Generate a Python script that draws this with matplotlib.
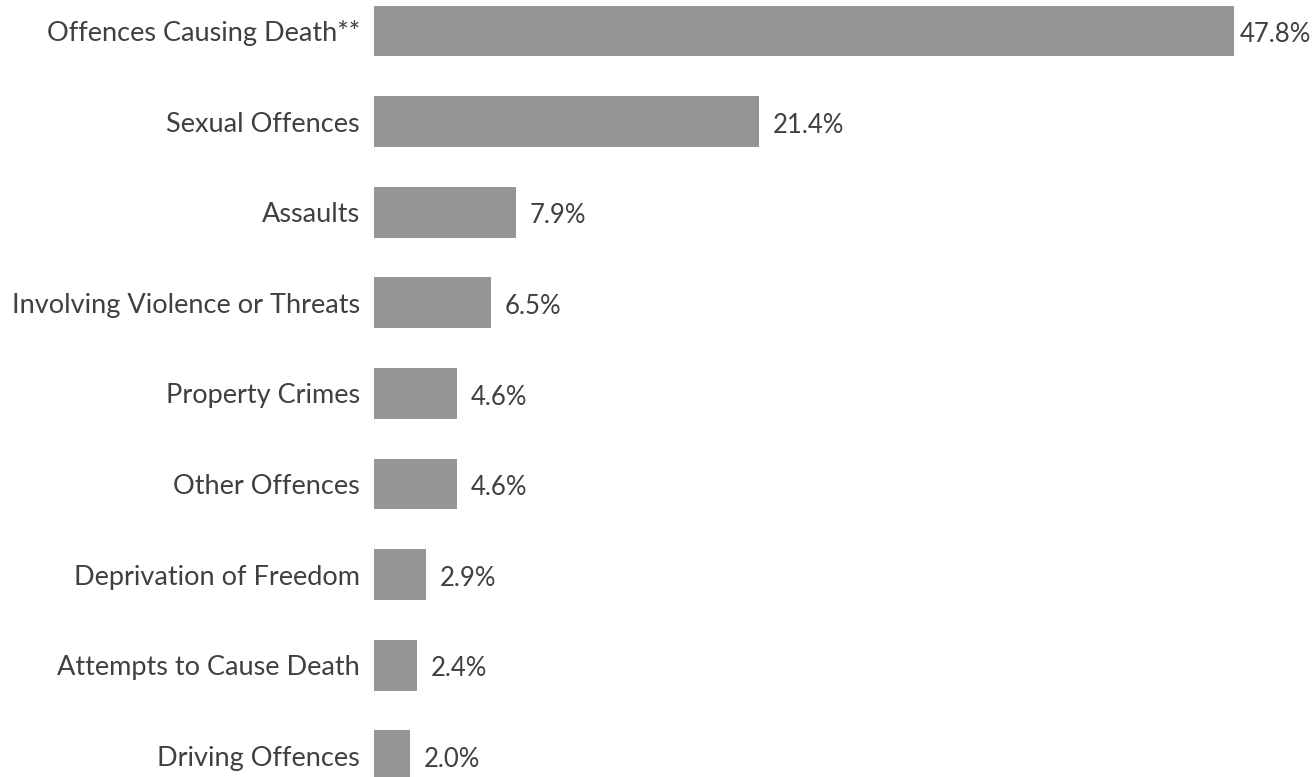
import matplotlib.pyplot as plt

# data
categorias = ['Offences Causing Death**', 'Sexual Offences', 'Assaults',
              'Involving Violence or Threats', 'Property Crimes', 'Other Offences',
              'Deprivation of Freedom', 'Attempts to Cause Death', 'Driving Offences']
porcentajes = [47.8, 21.4, 7.9, 6.5, 4.6, 4.6, 2.9, 2.4, 2.0]

plt.rcParams['font.family'] = ['Lato', 'DejaVu Sans']

fig = plt.figure(figsize=(13.13, 7.77), dpi=100)
ax = fig.add_axes([374 / 1313, 0, 1 - 374 / 1313, 1])

pos = list(range(len(categorias)))
ax.barh(pos, porcentajes, height=0.56, color='#959595')

# etiquetas de valor (la mas larga se pega al borde derecho)
for p, v in zip(pos, porcentajes):
    x = min(v + 0.75, 48.1)
    ax.text(x, p + 0.04, f'{v:.1f}%', va='center', ha='left', fontsize=18.5, color='#404040')

ax.set_yticks(pos)
ax.set_yticklabels(categorias, fontsize=19.5, color='#404040')
ax.tick_params(axis='y', length=0, pad=10)
ax.set_xticks([])
ax.set_xlim(0, (1313 - 374) / 18.0)
ax.set_ylim((777 - 31) / 90.6, -31 / 90.6)
for s in ax.spines.values():
    s.set_visible(False)

fig.savefig('out.png', dpi=100)
